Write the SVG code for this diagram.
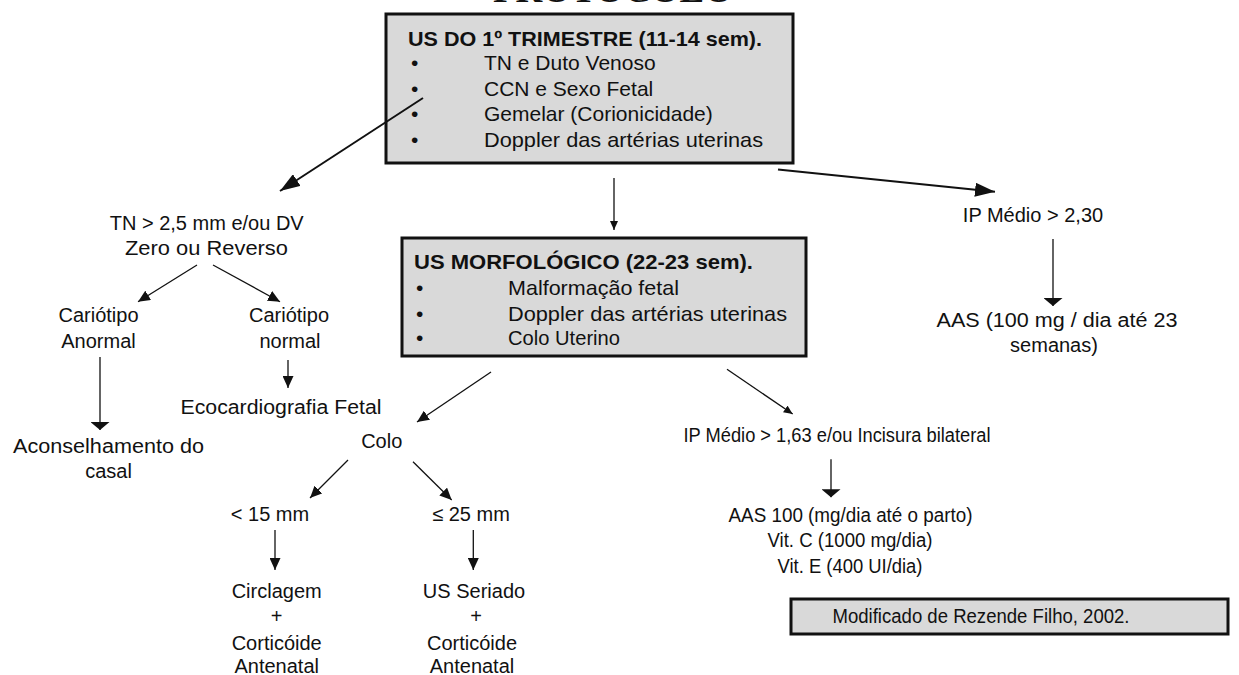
<svg xmlns="http://www.w3.org/2000/svg" width="1239" height="675" viewBox="0 0 1239 675">
<style>
text{font-family:"Liberation Sans",Arial,sans-serif;font-size:20px;fill:#111}
.c{text-anchor:middle}
.bx text{font-size:21px}
.b{font-weight:bold}
.box{fill:#d9d9d9;stroke:#111;stroke-width:3}
.ln{stroke:#111;stroke-width:1.3;fill:none}
.th{stroke-width:2}
.title{font-family:"Liberation Serif","Times New Roman",serif;font-size:36px;font-weight:bold}
</style>
<defs>
<marker id="big" markerUnits="userSpaceOnUse" markerWidth="20" markerHeight="14" refX="20" refY="7" orient="auto"><path d="M0,0 L20,7 L0,14 Z" fill="#111"/></marker>
<marker id="med" markerUnits="userSpaceOnUse" markerWidth="12" markerHeight="11" refX="12" refY="5.5" orient="auto"><path d="M0,0 L12,5.5 L0,11 Z" fill="#111"/></marker>
<marker id="flat" markerUnits="userSpaceOnUse" markerWidth="8" markerHeight="19" refX="8" refY="9.5" orient="auto"><path d="M0,0 L8,9.5 L0,19 Z" fill="#111"/></marker>
<marker id="small" markerUnits="userSpaceOnUse" markerWidth="9" markerHeight="8" refX="9" refY="4" orient="auto"><path d="M0,0 L9,4 L0,8 Z" fill="#111"/></marker>
</defs>
<rect width="1239" height="675" fill="#fff"/>
<text class="title" x="493" y="1.5" textLength="240" lengthAdjust="spacingAndGlyphs">PROTOCOLO</text>

<g id="us-trimestre" class="bx">
<rect class="box" x="386" y="14" width="407" height="149"/>
<text class="b" x="408" y="45.5" textLength="354" lengthAdjust="spacingAndGlyphs">US DO 1º TRIMESTRE (11-14 sem).</text>
<text x="411" y="70">•</text><text x="484" y="70">TN e Duto Venoso</text>
<text x="411" y="95.5">•</text><text x="484" y="95.5">CCN e Sexo Fetal</text>
<text x="411" y="121">•</text><text x="484" y="121">Gemelar (Corionicidade)</text>
<text x="411" y="146.5">•</text><text x="484" y="146.5" textLength="279" lengthAdjust="spacingAndGlyphs">Doppler das artérias uterinas</text>
</g>

<g id="us-morfologico" class="bx">
<rect class="box" x="402" y="238" width="404" height="118"/>
<text class="b" x="414" y="269" textLength="339" lengthAdjust="spacingAndGlyphs">US MORFOLÓGICO (22-23 sem).</text>
<text x="416" y="295">•</text><text x="508" y="295" textLength="171" lengthAdjust="spacingAndGlyphs">Malformação fetal</text>
<text x="416" y="320.5">•</text><text x="508" y="320.5" textLength="279" lengthAdjust="spacingAndGlyphs">Doppler das artérias uterinas</text>
<text x="416" y="345">•</text><text x="508" y="345" textLength="112" lengthAdjust="spacingAndGlyphs">Colo Uterino</text>
</g>

<g id="ip230"><text class="c" x="1033" y="221.7">IP Médio &gt; 2,30</text></g>
<g id="aas23">
<text class="c" x="1057" y="326.7" textLength="241" lengthAdjust="spacingAndGlyphs">AAS (100 mg / dia até 23</text>
<text class="c" x="1054" y="351.7">semanas)</text>
</g>

<g id="tn">
<text class="c" x="206.7" y="230">TN &gt; 2,5 mm e/ou DV</text>
<text class="c" x="206.5" y="255" textLength="163" lengthAdjust="spacingAndGlyphs">Zero ou Reverso</text>
</g>
<g id="cariotipo-anormal">
<text class="c" x="98.5" y="322.3">Cariótipo</text>
<text class="c" x="98.5" y="347.7">Anormal</text>
</g>
<g id="cariotipo-normal">
<text class="c" x="289" y="322.3">Cariótipo</text>
<text class="c" x="290" y="348">normal</text>
</g>
<g id="eco"><text class="c" x="281" y="414" textLength="201" lengthAdjust="spacingAndGlyphs">Ecocardiografia Fetal</text></g>
<g id="aconselhamento">
<text class="c" x="108.5" y="453" textLength="191" lengthAdjust="spacingAndGlyphs">Aconselhamento do</text>
<text class="c" x="108.5" y="478">casal</text>
</g>
<g id="colo"><text class="c" x="381.7" y="448">Colo</text></g>
<g id="lt15"><text class="c" x="270" y="520.7">&lt; 15 mm</text></g>
<g id="le25"><text class="c" x="471" y="520.7">≤ 25 mm</text></g>
<g id="circlagem">
<text class="c" x="276.7" y="598.3">Circlagem</text>
<text class="c" x="276.7" y="623">+</text>
<text class="c" x="276.7" y="650">Corticóide</text>
<text class="c" x="276.7" y="673">Antenatal</text>
</g>
<g id="seriado">
<text class="c" x="474" y="598.3">US Seriado</text>
<text class="c" x="476" y="623">+</text>
<text class="c" x="472" y="650">Corticóide</text>
<text class="c" x="472" y="673">Antenatal</text>
</g>
<g id="ip163"><text class="c" x="837" y="441.7" textLength="307" lengthAdjust="spacingAndGlyphs">IP Médio &gt; 1,63 e/ou Incisura bilateral</text></g>
<g id="aas-parto">
<text class="c" x="850.5" y="521.7" textLength="244" lengthAdjust="spacingAndGlyphs">AAS 100 (mg/dia até o parto)</text>
<text class="c" x="850" y="547.3" textLength="165" lengthAdjust="spacingAndGlyphs">Vit. C (1000 mg/dia)</text>
<text class="c" x="850" y="573.3" textLength="145" lengthAdjust="spacingAndGlyphs">Vit. E (400 UI/dia)</text>
</g>
<g id="fonte">
<rect class="box" x="791" y="599" width="437" height="35" stroke-width="2.5"/>
<text class="c" x="981" y="622.7" textLength="297" lengthAdjust="spacingAndGlyphs">Modificado de Rezende Filho, 2002.</text>
</g>

<g id="connectors">
<line class="ln th" x1="423" y1="98" x2="280" y2="191" marker-end="url(#big)"/>
<line class="ln" x1="614" y1="178" x2="614" y2="230" marker-end="url(#small)"/>
<line class="ln th" x1="778" y1="169.5" x2="995" y2="191.7" marker-end="url(#big)"/>
<line class="ln" x1="1053" y1="239" x2="1053" y2="306" marker-end="url(#flat)"/>
<line class="ln" x1="197" y1="265" x2="138" y2="301.7" marker-end="url(#med)"/>
<line class="ln" x1="213" y1="265" x2="280" y2="301.7" marker-end="url(#med)"/>
<line class="ln" x1="100" y1="357" x2="100" y2="430" marker-end="url(#flat)"/>
<line class="ln" x1="288" y1="360" x2="288" y2="388" marker-end="url(#med)"/>
<line class="ln" x1="491" y1="372" x2="417" y2="422" marker-end="url(#med)"/>
<line class="ln" x1="348" y1="460" x2="310" y2="498" marker-end="url(#med)"/>
<line class="ln" x1="413" y1="461.7" x2="451.7" y2="500" marker-end="url(#med)"/>
<line class="ln" x1="275" y1="530" x2="275" y2="570" marker-end="url(#med)"/>
<line class="ln" x1="473.3" y1="530" x2="473.3" y2="570" marker-end="url(#med)"/>
<line class="ln" x1="727" y1="369.3" x2="792.7" y2="414" marker-end="url(#small)"/>
<line class="ln" x1="831" y1="459.3" x2="831" y2="497.3" marker-end="url(#flat)"/>
</g>
</svg>
